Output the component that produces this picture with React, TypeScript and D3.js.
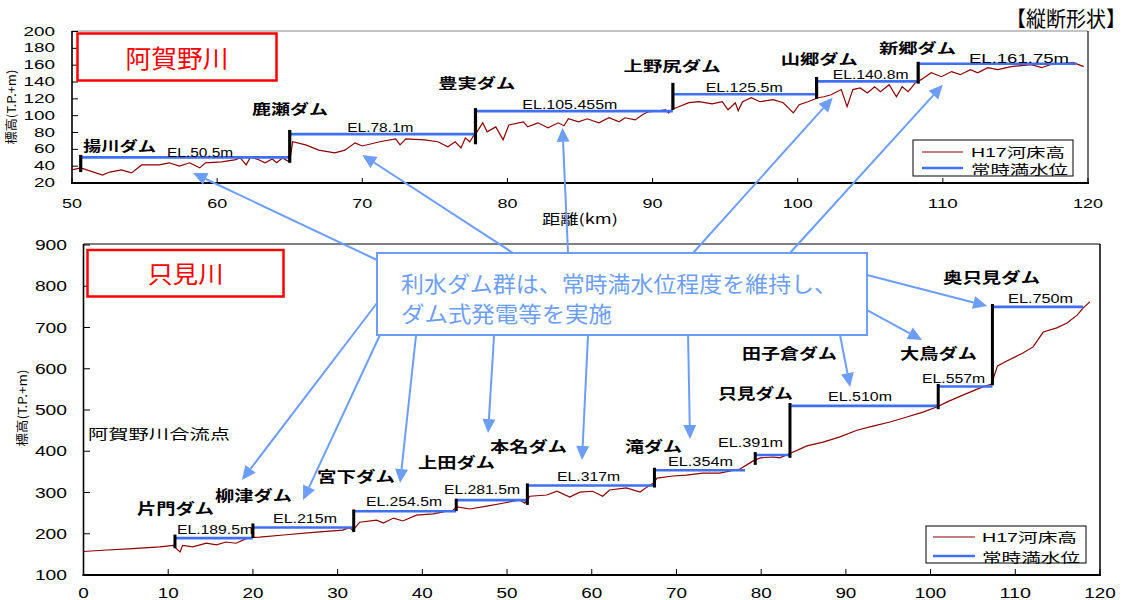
import React from "react";
import * as d3 from "d3";

// ---------- 阿賀野川 (top) ----------
const agKm = [50.0,50.6,52.1,52.6,53.4,54.1,54.8,56.0,56.7,57.4,58.1,58.8,59.2,60.3,61.2,61.6,62.0,62.3,62.9,63.3,63.8,64.1,64.5,65.0,65.2,66.1,67.0,68.1,68.8,69.5,70.0,71.2,72.3,72.6,73.0,74.3,75.2,75.9,76.4,76.8,77.1,77.4,77.7,77.9,78.3,78.6,79.2,79.7,80.1,81.1,81.4,82.1,82.8,83.5,83.9,84.2,84.9,85.5,86.3,87.0,87.7,88.1,88.8,89.3,89.7,90.4,90.9,91.1,91.4,91.8,92.5,93.2,94.1,94.8,95.2,95.7,95.9,96.2,96.8,97.4,98.3,99.0,99.7,100.1,100.7,101.4,101.8,102.3,103.0,103.4,103.8,104.3,104.8,105.3,105.7,106.3,106.8,107.2,107.6,107.9,108.1,108.5,109.2,109.9,110.6,111.2,111.9,112.4,113.1,113.8,114.7,116.1,116.8,117.4,118.3,119.0,119.7];
const agBed = [35.5,38,29.5,33,35.5,32,41.5,41.5,44,40,44,38,44,45,47.4,49.8,41.5,51,47.4,44,48.6,44,49.8,45,69,65.3,59,55.8,59,67.7,64,69,72.4,65.3,72.4,71.3,69,63,69,61.7,73.6,69,77,80.8,91.5,80.8,86.7,71.3,89,92.7,86.7,91.5,85.5,91.5,88,96.3,92.7,96.3,91.5,97.5,92.7,97.5,95,101,104.6,105.8,107,103.4,108,110.6,115.4,116.6,114,116.6,107,115.4,106,116.6,121.3,116.6,119,115.4,103.4,113,116.6,121.3,122.5,124.9,131,110.6,131,133,127,134.4,128.5,136.8,122.5,134.4,128.5,134.4,139,142.8,151,146.3,152.4,148.7,154.7,151,157,154.7,158.3,160.6,157,160.6,161.8,163,158.3];

const agDamNames = ["揚川ダム","鹿瀬ダム","豊実ダム","上野尻ダム","山郷ダム","新郷ダム"];
const agDamKm = [50.6, 65.0, 77.8, 91.4, 101.3, 108.3];
const agPoolEnd = [65.0, 77.8, 91.4, 101.3, 108.3, 119.2];
const agEL = [50.5, 78.1, 105.455, 125.5, 140.8, 161.75];
const agELText = ["EL.50.5m","EL.78.1m","EL.105.455m","EL.125.5m","EL.140.8m","EL.161.75m"];
const agCrest = [53.4, 83, 109, 139, 146, 164];
const agBase = [33, 44, 66, 107, 120, 138];
// label anchors (data units)
const agNameKm = [50.76, 62.41, 75.24, 88.0, 98.83, 105.6];
const agNameEl = [65.3, 109.4, 140.4, 160.6, 169, 181];
const agNameW = [73, 76, 77, 97, 77, 77];
const agElKm = [56.55, 68.97, 81.03, 93.66, 102.41, 111.8];
const agElEl = [55.8, 85.6, 113, 133.2, 148.7, 167.8];
const agElW = [66, 66, 95, 77, 76, 100];

// ---------- 只見川 (bottom) ----------
const tdKm = [0,2.3,5.8,9.0,10.6,10.9,11.4,11.7,12.9,14.5,15.7,16.8,18.0,19.2,20.0,20.8,23.6,27.5,30.6,31.4,31.8,32.6,34.6,35.4,36.6,37.7,39.3,41.3,42.9,43.6,44.1,45.6,47.6,49.5,51.5,52.1,52.7,54.7,55.9,57.4,58.6,60.1,61.3,62.1,64.1,65.7,66.5,67.3,67.7,69.6,71.2,73.1,75.1,77.5,78.3,79.0,79.9,81.4,82.2,83.0,85.4,87.3,89.3,91.3,93.2,95.2,97.2,99.1,100.8,101.9,103.8,105.8,107.2,107.9,109.0,110.9,112.1,113.3,114.9,116.1,117.3,118.0,118.8];
const tdBed = [157,160,164,168,172,165,156,172,168,177,173,180,177,188,191,192,197,204,209,215,208,228,233,226,238,231,245,248,255,257,265,260,267,274,282,274,291,294,303,289,301,303,291,306,311,301,313,323,335,340,342,347,347,357,367,376,384,386,384,391,413,422,435,451,461,471,483,495,508,519,536,553,563,607,619,638,653,689,699,711,730,747,762];

const tdDamNames = ["片門ダム","柳津ダム","宮下ダム","上田ダム","本名ダム","滝ダム","只見ダム","田子倉ダム","大鳥ダム","奥只見ダム"];
const tdDamKm = [10.8, 20.0, 31.9, 44.0, 52.4, 67.4, 79.3, 83.4, 100.9, 107.3];
const tdPoolEnd = [20.0, 31.9, 44.0, 52.4, 67.4, 78.1, 83.4, 100.9, 107.3, 118.0];
const tdEL = [189.5, 215, 254.5, 281.5, 317, 354, 391, 510, 557, 750];
const tdELText = ["EL.189.5m","EL.215m","EL.254.5m","EL.281.5m","EL.317m","EL.354m","EL.391m","EL.510m","EL.557m","EL.750m"];
const tdCrest = [198, 225, 259, 285, 322, 360, 398, 517, 563, 757];
const tdBase = [165, 190, 204, 255, 270, 312, 367, 384, 502, 560];
const tdNameKm = [6.32, 15.53, 27.57, 39.5, 48.0, 63.93, 74.9, 77.74, 96.4, 101.47];
const tdNameEl = [264.8, 294, 342.4, 374, 415, 415, 543.6, 640.6, 640.6, 824.8];
const tdNameW = [77, 77, 78, 77, 77, 57, 75, 95, 77, 97];
const tdElKm = [11.04, 22.37, 33.35, 42.56, 55.9, 69.0, 74.9, 87.9, 98.99, 109.15];
const tdElEl = [209, 235.8, 277, 306, 337.6, 374, 420, 531.5, 575, 769];
const tdElW = [76, 64, 76, 76, 63, 65, 65, 64, 63, 65];

// ticks
const agXTicks = [50, 60, 70, 80, 90, 100, 110, 120];
const agYTicks = [20, 40, 60, 80, 100, 120, 140, 160, 180, 200];
const tdXTicks = [0, 10, 20, 30, 40, 50, 60, 70, 80, 90, 100, 110, 120];
const tdYTicks = [100, 200, 300, 400, 500, 600, 700, 800, 900];

// callout (bottom-chart data units) and arrows
const calloutKm = [34.65, 92.5];
const calloutEl = [880.6, 681.8];
// arrows to top chart: source in bottom units, target in top units
const upSrcKm = [34.65, 50.7, 57.2, 71.96, 83.4];
const upSrcEl = [863.6, 880.6, 880.6, 880.6, 880.6];
const upTgtKm = [58.34, 70.0, 83.79, 102.41, 110.0];
const upTgtEl = [31.9, 53.4, 85.6, 121.3, 136.8];
// arrows within bottom chart
const dnSrcKm = [34.65, 35.0, 39.26, 48.47, 59.56, 71.37, 89.31, 92.5, 92.5];
const dnSrcEl = [759.4, 681.8, 681.8, 681.8, 681.8, 681.8, 681.8, 742.4, 827.3];
const dnTgtKm = [18.71, 25.92, 37.37, 47.76, 58.85, 71.6, 90.5, 98.99, 106.67];
const dnTgtEl = [330.3, 281.8, 323, 444, 378.8, 429.7, 555.8, 669.7, 752];

const SANS = "'Liberation Sans', Arial, 'Noto Sans CJK JP', sans-serif";
const JP = "'Noto Sans CJK JP', 'Liberation Sans', sans-serif";
const RED = "#8b0000";
const BLUE = "#3f6ff2";
const ABLUE = "#6d9ef7";

function T(props: any) {
  const { x, y, size, w, anchor = "start", weight = 400, fill = "#000", family = SANS, children, transform } = props;
  return (
    <text
      x={x}
      y={y}
      fontSize={size}
      fontWeight={weight}
      fill={fill}
      fontFamily={family}
      textAnchor={anchor}
      dominantBaseline="central"
      textLength={w}
      lengthAdjust={w ? "spacingAndGlyphs" : undefined}
      transform={transform}
    >
      {children}
    </text>
  );
}

function Arrow({ x1, y1, x2, y2 }: any) {
  const dx = x2 - x1, dy = y2 - y1;
  const L = Math.hypot(dx, dy);
  const ux = dx / L, uy = dy / L;
  const hl = 14, hw = 6.5;
  const bx = x2 - ux * hl, by = y2 - uy * hl;
  const px = -uy, py = ux;
  return (
    <g>
      <line x1={x1} y1={y1} x2={bx} y2={by} stroke={ABLUE} strokeWidth={2} />
      <polygon points={`${x2},${y2} ${bx + px * hw},${by + py * hw} ${bx - px * hw},${by - py * hw}`} fill={ABLUE} />
    </g>
  );
}

export default function App() {
  const tx = d3.scaleLinear().domain([50, 120]).range([72, 1088]);
  const ty = d3.scaleLinear().domain([20, 200]).range([183, 31.5]);
  const bx = d3.scaleLinear().domain([0, 120]).range([83.5, 1100]);
  const by = d3.scaleLinear().domain([100, 900]).range([575, 245]);

  const agLine = d3.line<number>().x((_, i) => tx(agKm[i])).y((d) => ty(d))(agBed) || "";
  const tdLine = d3.line<number>().x((_, i) => bx(tdKm[i])).y((d) => by(d))(tdBed) || "";

  const digitW = (s: string, w: number) => s.length * w;

  return (
    <svg width={1135} height={600} style={{ position: "absolute", left: 0, top: 0, background: "#fff" }}>
      <rect x={0} y={0} width={1135} height={600} fill="#fff" />

      {/* ===== top chart ===== */}
      <g>
        <line x1={72} y1={31} x2={1088} y2={31} stroke="#888" strokeWidth={1.2} />
        <line x1={1088} y1={31} x2={1088} y2={183} stroke="#444" strokeWidth={1.5} />
        <line x1={72} y1={31} x2={72} y2={184} stroke="#000" strokeWidth={1.6} />
        <line x1={71} y1={183} x2={1089} y2={183} stroke="#000" strokeWidth={2} />
        {agYTicks.map((v) => (
          <g key={"ay" + v}>
            <line x1={72} x2={78} y1={ty(v)} y2={ty(v)} stroke="#000" strokeWidth={1} />
            <T x={55} y={ty(v)} size={12.5} anchor="end" w={digitW(String(v), 10.5)}>{v}</T>
          </g>
        ))}
        {agXTicks.map((v) => (
          <g key={"ax" + v}>
            <line x1={tx(v)} x2={tx(v)} y1={183} y2={178} stroke="#000" strokeWidth={1} />
            <T x={tx(v)} y={203} size={13} anchor="middle" w={digitW(String(v), 10)}>{v}</T>
          </g>
        ))}
        <T x={580} y={218} size={13.5} anchor="middle" w={76} family={JP}>距離(km)</T>
        <T x={0} y={0} size={12} anchor="middle" w={75} family={JP} transform="translate(10,107) rotate(-90)">標高(T.P.+m)</T>

        <path d={agLine} fill="none" stroke={RED} strokeWidth={1.2} />
        {agEL.map((el, i) => (
          <line key={"aw" + i} x1={tx(agDamKm[i])} x2={tx(agPoolEnd[i])} y1={ty(el)} y2={ty(el)} stroke={BLUE} strokeWidth={2.6} />
        ))}
        {agDamKm.map((k, i) => (
          <line key={"ad" + i} x1={tx(k)} x2={tx(k)} y1={ty(agCrest[i])} y2={ty(agBase[i])} stroke="#000" strokeWidth={3.2} />
        ))}
        {agDamNames.map((n, i) => (
          <T key={"an" + i} x={tx(agNameKm[i])} y={ty(agNameEl[i])} size={13.5} weight={700} w={agNameW[i]} family={JP}>{n}</T>
        ))}
        {agELText.map((s, i) => (
          <T key={"ae" + i} x={tx(agElKm[i])} y={ty(agElEl[i])} size={12} w={agElW[i]}>{s}</T>
        ))}

        <rect x={77.5} y={33.5} width={199} height={47} fill="#fff" stroke="#ff0000" strokeWidth={2.5} />
        <T x={177} y={57} size={25} anchor="middle" w={103} fill="#ff0000" family={JP}>阿賀野川</T>

        <rect x={913} y={140} width={160} height={36} fill="#fff" stroke="#000" strokeWidth={1} />
        <line x1={922} x2={963} y1={152} y2={152} stroke={RED} strokeWidth={1.2} />
        <line x1={922} x2={963} y1={168} y2={168} stroke={BLUE} strokeWidth={2.6} />
        <T x={971} y={152} size={13} w={94}>H17河床高</T>
        <T x={971} y={168} size={13} w={97} family={JP}>常時満水位</T>
      </g>

      <T x={1066} y={17} size={21} anchor="middle" w={120} family={JP}>【縦断形状】</T>

      {/* ===== bottom chart ===== */}
      <g>
        <line x1={83.5} y1={244} x2={1100} y2={244} stroke="#000" strokeWidth={1.2} />
        <line x1={1100} y1={244} x2={1100} y2={575} stroke="#000" strokeWidth={1.5} />
        <line x1={83.5} y1={244} x2={83.5} y2={576} stroke="#000" strokeWidth={1.6} />
        <line x1={82.5} y1={575} x2={1101} y2={575} stroke="#000" strokeWidth={2} />
        {tdYTicks.map((v) => (
          <g key={"by" + v}>
            <line x1={83.5} x2={90} y1={by(v)} y2={by(v)} stroke="#000" strokeWidth={1} />
            <T x={67} y={by(v)} size={14} anchor="end" w={digitW(String(v), 10.7)}>{v}</T>
          </g>
        ))}
        {tdXTicks.map((v) => (
          <g key={"bxx" + v}>
            <line x1={bx(v)} x2={bx(v)} y1={575} y2={569} stroke="#000" strokeWidth={1} />
            <T x={bx(v)} y={593} size={14} anchor="middle" w={digitW(String(v), 10.5)}>{v}</T>
          </g>
        ))}
        <T x={0} y={0} size={12} anchor="middle" w={77} family={JP} transform="translate(21,408) rotate(-90)">標高(T.P.+m)</T>

        <path d={tdLine} fill="none" stroke={RED} strokeWidth={1.2} />
        {tdEL.map((el, i) => (
          <line key={"bw" + i} x1={bx(tdDamKm[i])} x2={bx(tdPoolEnd[i])} y1={by(el)} y2={by(el)} stroke={BLUE} strokeWidth={2.6} />
        ))}
        {tdDamKm.map((k, i) => (
          <line key={"bd" + i} x1={bx(k)} x2={bx(k)} y1={by(tdCrest[i])} y2={by(tdBase[i])} stroke="#000" strokeWidth={3} />
        ))}
        {tdDamNames.map((n, i) => (
          <T key={"bn" + i} x={bx(tdNameKm[i])} y={by(tdNameEl[i])} size={14.5} weight={700} w={tdNameW[i]} family={JP}>{n}</T>
        ))}
        {tdELText.map((s, i) => (
          <T key={"be" + i} x={bx(tdElKm[i])} y={by(tdElEl[i])} size={12} w={tdElW[i]}>{s}</T>
        ))}

        <T x={88} y={433} size={13.5} w={142} family={JP}>阿賀野川合流点</T>

        <rect x={87.5} y={250} width={196} height={46.5} fill="#fff" stroke="#ff0000" strokeWidth={2.5} />
        <T x={185.5} y={272} size={24} anchor="middle" w={76} fill="#ff0000" family={JP}>只見川</T>

        <rect x={926} y={526} width={160} height={37} fill="#fff" stroke="#000" strokeWidth={1} />
        <line x1={933} x2={975} y1={537} y2={537} stroke={RED} strokeWidth={1.2} />
        <line x1={933} x2={975} y1={556} y2={556} stroke={BLUE} strokeWidth={2.6} />
        <T x={982} y={537} size={13} w={95}>H17河床高</T>
        <T x={982} y={556} size={13} w={98} family={JP}>常時満水位</T>
      </g>

      {/* ===== arrows & callout ===== */}
      {upSrcKm.map((k, i) => (
        <Arrow key={"ua" + i} x1={bx(k)} y1={by(upSrcEl[i])} x2={tx(upTgtKm[i])} y2={ty(upTgtEl[i])} />
      ))}
      {dnSrcKm.map((k, i) => (
        <Arrow key={"da" + i} x1={bx(k)} y1={by(dnSrcEl[i])} x2={bx(dnTgtKm[i])} y2={by(dnTgtEl[i])} />
      ))}
      <rect
        x={bx(calloutKm[0])}
        y={by(calloutEl[0])}
        width={bx(calloutKm[1]) - bx(calloutKm[0])}
        height={by(calloutEl[1]) - by(calloutEl[0])}
        fill="#fff"
        stroke={ABLUE}
        strokeWidth={2}
      />
      <T x={401} y={282} size={22} w={436} fill={ABLUE} family={JP}>利水ダム群は、常時満水位程度を維持し、</T>
      <T x={401} y={312} size={22} w={211} fill={ABLUE} family={JP}>ダム式発電等を実施</T>
    </svg>
  );
}
